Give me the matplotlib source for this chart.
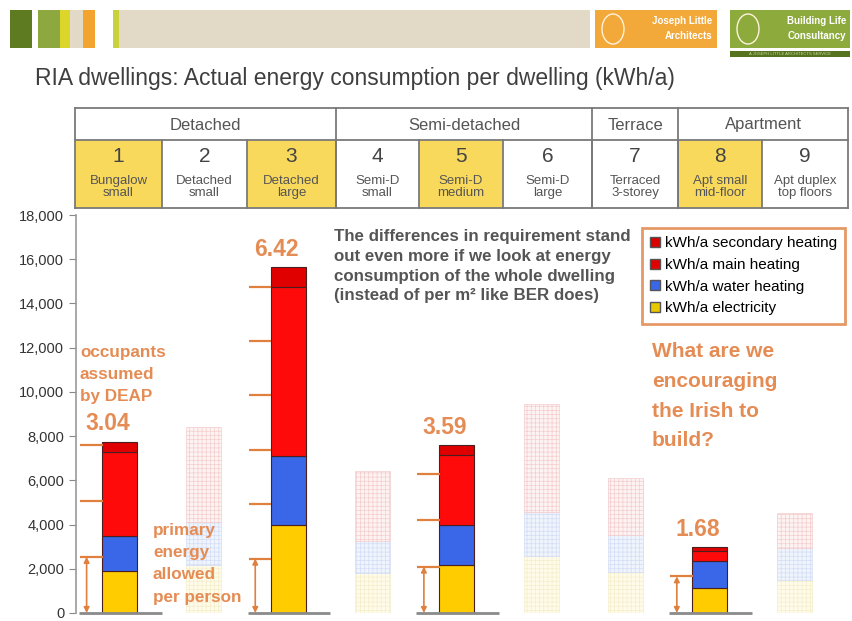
import matplotlib
matplotlib.use("Agg")
import matplotlib.pyplot as plt
from matplotlib.patches import Rectangle, Patch, Ellipse
from matplotlib.lines import Line2D

# Datos (kWh/a por vivienda)
numbers = ["1", "2", "3", "4", "5", "6", "7", "8", "9"]
names = ["Bungalow\nsmall", "Detached\nsmall", "Detached\nlarge", "Semi-D\nsmall",
         "Semi-D\nmedium", "Semi-D\nlarge", "Terraced\n3-storey", "Apt small\nmid-floor",
         "Apt duplex\ntop floors"]
groups = ["Detached", "Semi-detached", "Terrace", "Apartment"]
group_sizes = [3, 3, 1, 2]
highlighted = [True, False, True, False, True, False, False, True, False]

electricity = [1900, 2150, 4000, 1800, 2160, 2560, 1840, 1120, 1480]
water_heating = [1600, 1980, 3100, 1440, 1800, 2020, 1670, 1220, 1440]
main_heating = [3800, 4270, 7640, 3190, 3190, 4860, 2600, 450, 1620]
secondary_heating = [450, 0, 900, 0, 450, 0, 0, 180, 0]

# Ocupantes asumidos por DEAP y energía primaria permitida por persona
occ_index = [0, 2, 4, 7]
occupants = [3.04, 6.42, 3.59, 1.68]
allowed_per_person = [2540, 2460, 2100, 1660]

W, H = 853, 621
ORANGE = "#E0803F"
ORANGE_TXT = "#E58C55"
GREY_TXT = "#555555"
plt.rcParams["font.family"] = ["Liberation Sans", "DejaVu Sans"]

fig = plt.figure(figsize=(W / 100, H / 100), dpi=100)


def fx(x):
    return x / W


def fy(y):
    return 1 - y / H


def box(x0, y0, x1, y1, color, ec="none", lw=0):
    fig.add_artist(Rectangle((fx(x0), fy(y1)), (x1 - x0) / W, (y1 - y0) / H,
                             transform=fig.transFigure, facecolor=color,
                             edgecolor=ec, linewidth=lw))


def line(x0, y0, x1, y1, color="#7a7a7a", lw=1.3):
    fig.add_artist(Line2D([fx(x0), fx(x1)], [fy(y0), fy(y1)],
                          transform=fig.transFigure, color=color, lw=lw))


# Cabecera de la diapositiva
box(10, 10, 32, 48, "#5E7B22")
box(38, 10, 60, 48, "#8DA83E")
box(60, 10, 70, 48, "#DCD52A")
box(70, 10, 83, 48, "#E2DAC6")
box(83, 10, 95, 48, "#F2A42E")
box(113, 10, 119, 48, "#C9D23C")
box(119, 10, 590, 48, "#E2DAC6")
box(595, 10, 717, 48, "#F3A83A")
box(730, 10, 850, 48, "#8DAA3C")
box(730, 51, 850, 57, "#56731F")
for cx in (613, 748):
    fig.add_artist(Ellipse((fx(cx), fy(29)), 22 / W, 30 / H, transform=fig.transFigure,
                           facecolor="none", edgecolor="#FFF3DC", lw=1))
fig.text(fx(712), fy(21), "Joseph Little", color="white", fontsize=7, fontweight="bold", ha="right", va="center")
fig.text(fx(712), fy(36), "Architects", color="white", fontsize=7, fontweight="bold", ha="right", va="center")
fig.text(fx(846), fy(21), "Building Life", color="white", fontsize=7, fontweight="bold", ha="right", va="center")
fig.text(fx(846), fy(36), "Consultancy", color="white", fontsize=7, fontweight="bold", ha="right", va="center")
fig.text(fx(790), fy(54), "A JOSEPH LITTLE ARCHITECTS SERVICE", color="#C9D9A0", fontsize=3, ha="center", va="center")

fig.text(fx(35), fy(78), "RIA dwellings: Actual energy consumption per dwelling (kWh/a)",
         fontsize=16.5, color="#3f3f3f", va="center")

# Tabla de tipologías
cols = [75, 162, 247, 336, 419, 503, 592, 678, 762, 848]
for i in range(9):
    if highlighted[i]:
        box(cols[i], 140, cols[i + 1], 208, "#F9D95C")
    cx = (cols[i] + cols[i + 1]) / 2
    fig.text(fx(cx), fy(157), numbers[i], fontsize=15, color="#444444", ha="center", va="center")
    fig.text(fx(cx), fy(187), names[i], fontsize=9.5, color=GREY_TXT, ha="center", va="center",
             linespacing=1.1)
start = 0
for g, n in zip(groups, group_sizes):
    x0, x1 = cols[start], cols[start + n]
    fig.text(fx((x0 + x1) / 2), fy(125), g, fontsize=12, color=GREY_TXT, ha="center", va="center")
    line(x0, 108, x0, 208)
    start += n
line(848, 108, 848, 208)
line(75, 108, 848, 108)
line(75, 140, 848, 140)
line(75, 208, 848, 208)
for i in range(1, 9):
    line(cols[i], 140, cols[i], 208)

# Gráfico de barras apiladas
ax = fig.add_axes([fx(76), fy(613), (848 - 76) / W, (613 - 215) / H])
ax.set_facecolor("none")
ax.set_ylim(0, 18000)
ax.set_xlim(-0.516, 8.64)
width = 0.415

plt.rcParams["hatch.linewidth"] = 0.5
for i in range(9):
    heating = main_heating[i] + secondary_heating[i]
    if highlighted[i]:
        segs = [(electricity[i], "#FFCC00"), (water_heating[i], "#3A66E8"),
                (main_heating[i], "#FF0A0A"), (secondary_heating[i], "#E00000")]
        bottom = 0
        for val, col in segs:
            ax.bar(i, val, width, bottom=bottom, color=col, edgecolor="#4a1f1f", lw=0.8, zorder=3)
            bottom += val
    else:
        segs = [(electricity[i], "#FEFBEA", "#F5EECB"), (water_heating[i], "#F0F4FC", "#D3DDF5"),
                (heating, "#FDF3F3", "#F4CDCD")]
        bottom = 0
        for val, fc, hc in segs:
            ax.bar(i, val, width, bottom=bottom, color=fc, edgecolor=hc, lw=0.5,
                   hatch="++++", zorder=2)
            bottom += val
        continue
    ax.hlines(0, i - 0.48, i + 0.5, color="#8a8a8a", lw=2, zorder=4, clip_on=False)

for i, occ, allow in zip(occ_index, occupants, allowed_per_person):
    for k in range(1, int(occ) + 1):
        ax.hlines(k * allow, i - 0.47, i - 0.2, color=ORANGE, lw=1.6, zorder=4)
    ax.annotate("", xy=(i - 0.39, 0), xytext=(i - 0.39, allow),
                arrowprops=dict(arrowstyle="<|-|>", color=ORANGE, lw=1.2,
                                mutation_scale=8, shrinkA=0, shrinkB=0), zorder=4)
    top = electricity[i] + water_heating[i] + main_heating[i] + secondary_heating[i]
    ax.text(i - 0.14, top + 800, f"{occ:.2f}", fontsize=16.5, fontweight="bold",
            color=ORANGE_TXT, ha="center", va="center")

ax.set_yticks(range(0, 18001, 2000))
ax.set_yticklabels([f"{v:,}" for v in range(0, 18001, 2000)])
ax.tick_params(axis="y", labelsize=10.5, labelcolor="#333333", color="#888888", length=5)
ax.set_xticks([])
for s in ("top", "right", "bottom"):
    ax.spines[s].set_visible(False)
ax.spines["left"].set_color("#9a9a9a")
ax.spines["left"].set_linewidth(1.2)

# Textos de la diapositiva
fig.text(fx(80), fy(345), "occupants\nassumed\nby DEAP", fontsize=12.3, fontweight="bold",
         color=ORANGE_TXT, va="top", linespacing=1.6)
fig.text(fx(153), fy(523), "primary\nenergy\nallowed\nper person", fontsize=12.3, fontweight="bold",
         color=ORANGE_TXT, va="top", linespacing=1.6)
fig.text(fx(334), fy(229), "The differences in requirement stand\nout even more if we look at energy\n"
         "consumption of the whole dwelling\n(instead of per m² like BER does)",
         fontsize=12.2, fontweight="bold", color=GREY_TXT, va="top", linespacing=1.4)
fig.text(fx(652), fy(342), "What are we\nencouraging\nthe Irish to\nbuild?", fontsize=15,
         fontweight="bold", color=ORANGE_TXT, va="top", linespacing=1.72)

handles = [Patch(facecolor="#D90000", edgecolor="#555555"), Patch(facecolor="#E00000", edgecolor="#555555"),
           Patch(facecolor="#3A66E8", edgecolor="#555555"), Patch(facecolor="#E8C800", edgecolor="#555555")]
labels = ["kWh/a secondary heating", "kWh/a main heating", "kWh/a water heating", "kWh/a electricity"]
leg = ax.legend(handles, labels, loc="upper left", bbox_to_anchor=(fx(642), fy(228)),
                bbox_transform=fig.transFigure, fontsize=11, frameon=True, fancybox=False,
                handlelength=0.6, handleheight=0.6, handletextpad=0.35, labelspacing=0.5,
                borderpad=0.55, borderaxespad=0)
leg.get_frame().set_edgecolor(ORANGE)
leg.get_frame().set_linewidth(2)

plt.savefig("out.png", dpi=100)
